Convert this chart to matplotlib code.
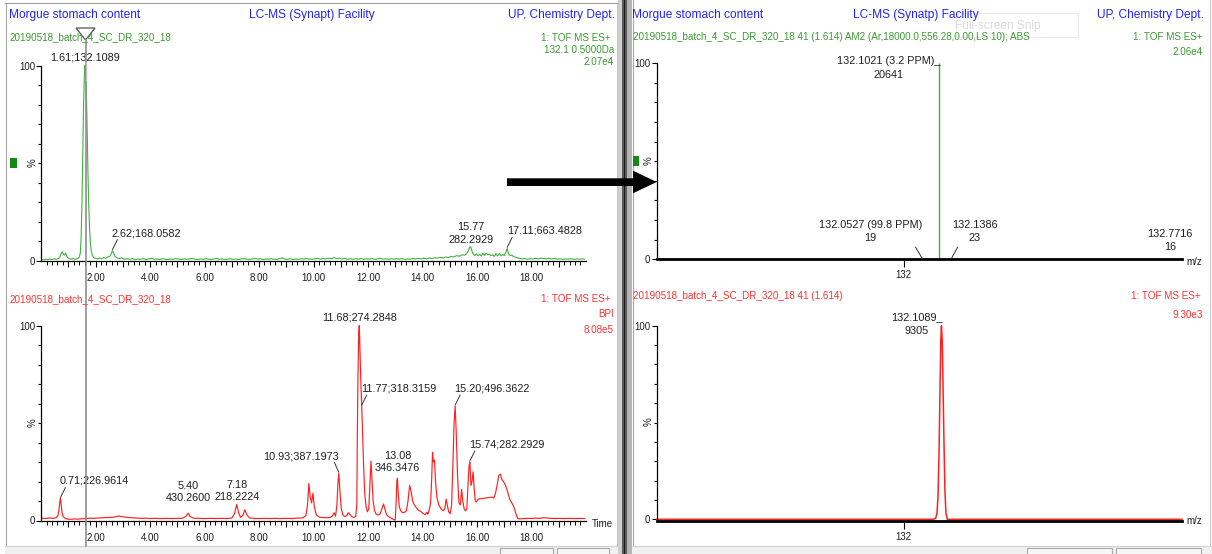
import matplotlib
matplotlib.use("Agg")
import matplotlib.pyplot as plt
from matplotlib import font_manager
from matplotlib.transforms import offset_copy
from matplotlib.ticker import FixedLocator, FuncFormatter
from matplotlib.patches import Rectangle, Polygon

# Prefer the condensed Arial-metric face when it is present
try:
    font_manager.findfont("Liberation Sans Narrow", fallback_to_default=False)
    NARROW = True
except ValueError:
    NARROW = False
plt.rcParams["font.family"] = (["Liberation Sans Narrow"] if NARROW else []) + ["Liberation Sans", "DejaVu Sans"]
SCALE = 1.2 if NARROW else 1.0

# ---------------- data ----------------
# mass chromatogram m/z 132.1 (+/-0.5 Da), % of 2.07e4
tic_time = [0.02, 0.10, 0.18, 0.25, 0.32, 0.40, 0.48, 0.55, 0.62, 0.68, 0.74, 0.78, 0.82, 0.86,
            0.90, 0.94, 0.98, 1.04, 1.10, 1.18, 1.25, 1.32, 1.37, 1.40, 1.44, 1.47, 1.50, 1.53,
            1.56, 1.59, 1.61, 1.63, 1.66, 1.69, 1.72, 1.75, 1.78, 1.81, 1.84, 1.88, 1.93, 2.00,
            2.08, 2.15, 2.22, 2.30, 2.38, 2.45, 2.52, 2.57, 2.62, 2.67, 2.72, 2.80, 2.88, 2.95,
            3.05, 3.15, 3.25, 3.35, 3.45, 3.55, 3.65, 3.75, 3.85, 3.95, 4.05, 4.15, 4.25, 4.35,
            4.45, 4.55, 4.65, 4.75, 4.85, 4.95, 5.05, 5.15, 5.25, 5.35, 5.45, 5.55, 5.65, 5.75,
            5.85, 5.95, 6.05, 6.15, 6.25, 6.35, 6.45, 6.55, 6.65, 6.75, 6.85, 6.95, 7.05, 7.15,
            7.25, 7.35, 7.45, 7.55, 7.65, 7.75, 7.85, 7.95, 8.05, 8.15, 8.25, 8.35, 8.45, 8.55,
            8.65, 8.75, 8.85, 8.95, 9.05, 9.15, 9.25, 9.35, 9.45, 9.55, 9.65, 9.75, 9.85, 9.95,
            10.05, 10.15, 10.25, 10.35, 10.45, 10.55, 10.65, 10.75, 10.85, 10.95, 11.05, 11.15,
            11.25, 11.35, 11.45, 11.55, 11.65, 11.75, 11.85, 11.95, 12.05, 12.15, 12.25, 12.35,
            12.45, 12.55, 12.65, 12.75, 12.85, 12.95, 13.05, 13.15, 13.25, 13.35, 13.45, 13.55,
            13.65, 13.75, 13.85, 13.95, 14.05, 14.15, 14.25, 14.35, 14.45, 14.55, 14.65, 14.75,
            14.85, 14.95, 15.05, 15.15, 15.25, 15.35, 15.45, 15.55, 15.62, 15.68, 15.73, 15.77,
            15.81, 15.86, 15.92, 15.98, 16.04, 16.10, 16.16, 16.22, 16.28, 16.34, 16.40, 16.46,
            16.52, 16.58, 16.64, 16.70, 16.76, 16.82, 16.88, 16.94, 17.00, 17.06, 17.11, 17.16,
            17.22, 17.28, 17.34, 17.40, 17.48, 17.56, 17.65, 17.75, 17.85, 17.95, 18.05, 18.15,
            18.25, 18.35, 18.45, 18.55, 18.65, 18.75, 18.85, 18.95, 19.05, 19.15, 19.25, 19.35,
            19.45, 19.55, 19.65, 19.75, 19.85, 19.95]
tic_pct = [0.6, 0.4, 0.8, 0.5, 0.9, 0.6, 1.0, 0.7, 1.1, 1.4, 3.8, 4.6, 3.2, 2.9,
           3.9, 2.4, 1.5, 1.0, 0.8, 1.1, 0.7, 1.0, 1.3, 1.8, 4.0, 12.0, 30.0, 55.0,
           80.0, 96.0, 100.0, 98.0, 88.0, 68.0, 45.0, 28.0, 16.0, 9.0, 5.0, 2.8, 1.6, 1.2,
           0.9, 1.3, 1.0, 1.6, 1.2, 1.9, 2.2, 3.4, 5.2, 3.6, 2.1, 1.4, 1.1, 1.5,
           0.8, 1.0, 0.7, 1.1, 0.6, 0.9, 0.7, 1.0, 0.6, 0.9, 1.2, 0.7, 0.9, 0.6,
           1.0, 0.8, 0.6, 0.9, 0.7, 1.1, 0.8, 0.6, 1.0, 0.7, 0.9, 1.2, 0.8, 0.6,
           0.9, 0.7, 1.0, 0.8, 0.6, 0.9, 1.1, 0.7, 0.9, 0.6, 0.8, 1.0, 0.7, 0.9,
           0.6, 0.9, 1.1, 0.8, 0.6, 0.9, 1.2, 0.8, 1.0, 0.6, 0.9, 0.7, 1.0, 0.8,
           0.6, 1.1, 1.4, 0.8, 0.7, 1.0, 0.6, 0.9, 0.7, 1.0, 0.8, 1.1, 0.9, 0.7,
           1.0, 1.2, 0.8, 1.1, 0.9, 1.3, 1.0, 1.6, 1.1, 1.3, 0.9, 1.1,
           0.8, 1.0, 0.7, 1.0, 0.8, 1.1, 0.7, 1.0, 0.8, 1.1, 0.7, 0.9,
           1.2, 0.8, 1.0, 0.7, 1.0, 0.8, 1.1, 0.8, 1.0, 0.7, 0.9, 0.8,
           1.1, 0.9, 1.2, 0.9, 1.3, 1.0, 1.4, 1.1, 1.5, 1.3, 1.7, 1.4,
           1.9, 1.6, 2.2, 1.9, 2.6, 2.3, 3.0, 2.8, 3.6, 5.0, 6.8, 7.2,
           5.2, 3.4, 2.6, 3.5, 2.5, 3.3, 2.4, 3.8, 2.7, 3.9, 3.0, 3.4,
           2.5, 3.0, 2.2, 3.6, 2.4, 3.7, 2.5, 3.2, 2.6, 4.2, 6.3, 3.6,
           2.6, 2.9, 2.1, 1.9, 1.5, 1.2, 0.9, 1.1, 0.8, 1.0, 0.9, 1.2,
           1.0, 1.3, 1.1, 1.0, 1.2, 0.9, 1.1, 0.8, 1.0, 0.7, 0.9, 0.8,
           1.0, 0.7, 0.9, 0.8, 0.9, 0.8]

# base peak intensity chromatogram, % of 8.08e5
bpi_time = [0.02, 0.15, 0.30, 0.45, 0.55, 0.62, 0.66, 0.69, 0.71, 0.74, 0.77, 0.81, 0.88, 0.95,
            1.05, 1.20, 1.35, 1.50, 1.65, 1.80, 1.95, 2.10, 2.25, 2.40, 2.55, 2.70, 2.85, 2.95,
            3.10, 3.25, 3.40, 3.55, 3.70, 3.85, 4.00, 4.20, 4.40, 4.60, 4.80, 5.00, 5.20, 5.32,
            5.40, 5.47, 5.60, 5.80, 6.00, 6.20, 6.40, 6.60, 6.80, 7.00, 7.10, 7.18, 7.25, 7.32,
            7.40, 7.48, 7.55, 7.65, 7.80, 8.00, 8.20, 8.40, 8.60, 8.80, 9.00, 9.20, 9.40, 9.60,
            9.72, 9.78, 9.83, 9.88, 9.93, 9.98, 10.03, 10.10, 10.20, 10.35, 10.50, 10.62, 10.70,
            10.76, 10.81, 10.86, 10.90, 10.93, 10.97, 11.02, 11.08, 11.15, 11.22, 11.28, 11.33,
            11.40, 11.48, 11.55, 11.59, 11.61, 11.63, 11.66, 11.68, 11.71, 11.74, 11.77, 11.80,
            11.84, 11.88, 11.93, 11.98, 12.03, 12.07, 12.11, 12.15, 12.19, 12.24, 12.30, 12.38,
            12.45, 12.52, 12.57, 12.62, 12.68, 12.75, 12.85, 12.95, 13.00, 13.03, 13.06, 13.08,
            13.11, 13.15, 13.20, 13.27, 13.34, 13.41, 13.47, 13.53, 13.58, 13.64, 13.70, 13.78,
            13.86, 13.94, 14.02, 14.10, 14.16, 14.20, 14.25, 14.30, 14.34, 14.37, 14.40, 14.44,
            14.48, 14.53, 14.60, 14.68, 14.76, 14.82, 14.87, 14.91, 14.96, 15.02, 15.07, 15.12,
            15.16, 15.20, 15.24, 15.29, 15.34, 15.39, 15.44, 15.48, 15.53, 15.58, 15.63, 15.67,
            15.71, 15.74, 15.78, 15.82, 15.86, 15.90, 15.94, 15.98, 16.05, 16.15, 16.25, 16.35,
            16.45, 16.55, 16.62, 16.68, 16.74, 16.80, 16.86, 16.92, 16.98, 17.05, 17.12, 17.20,
            17.26, 17.32, 17.38, 17.44, 17.50, 17.58, 17.70, 17.85, 18.00, 18.15, 18.30, 18.45,
            18.60, 18.75, 18.90, 19.05, 19.20, 19.40, 19.60, 19.80, 19.95]
bpi_pct = [1.2, 1.0, 1.3, 1.1, 1.4, 2.5, 6.0, 10.0, 11.3, 8.0, 4.0, 2.0, 1.2, 0.8,
           0.6, 0.8, 0.7, 0.9, 1.0, 1.2, 1.1, 1.3, 1.4, 1.5, 1.6, 1.8, 2.3, 2.0,
           1.7, 1.5, 1.3, 1.2, 1.1, 1.2, 1.0, 1.1, 1.0, 1.1, 1.0, 1.1, 1.2, 2.2,
           3.8, 2.0, 1.2, 1.1, 1.0, 1.1, 1.0, 1.1, 1.0, 1.2, 3.5, 8.2, 4.0, 1.6,
           2.5, 5.5, 3.0, 1.3, 1.1, 1.0, 1.1, 1.0, 1.1, 1.0, 1.1, 1.0, 1.2, 1.3,
           2.5, 8.0, 19.0, 12.0, 9.0, 14.0, 7.0, 3.0, 1.8, 1.5, 1.4, 1.6, 2.4,
           4.0, 2.2, 8.0, 20.0, 24.2, 15.0, 6.0, 2.8, 2.0, 2.5, 4.0, 3.2,
           2.0, 1.6, 2.0, 8.0, 45.0, 72.0, 96.0, 100.0, 85.0, 70.0, 58.7, 45.0,
           28.0, 14.0, 7.0, 4.5, 6.0, 18.0, 30.5, 20.0, 10.0, 5.0, 3.2, 2.8,
           3.5, 6.5, 8.5, 6.0, 3.0, 2.0, 1.2, 0.4, 0.3, 8.0, 20.0, 21.6,
           14.0, 7.0, 5.0, 4.0, 4.2, 5.0, 10.0, 18.0, 15.0, 10.0, 8.0, 6.5,
           5.2, 4.6, 3.6, 3.0, 4.2, 3.2, 5.5, 9.0, 22.0, 35.0, 30.0, 31.0,
           20.0, 12.0, 8.0, 6.0, 5.0, 6.0, 11.0, 8.0, 4.5, 3.5, 8.0, 30.0,
           50.0, 58.7, 45.0, 22.0, 9.0, 8.0, 16.0, 10.0, 6.0, 5.0, 6.0, 18.0,
           28.0, 30.0, 18.0, 20.0, 25.0, 16.0, 10.0, 9.5, 11.0, 11.2, 11.4, 11.6,
           11.8, 12.0, 11.5, 14.0, 18.0, 23.0, 23.8, 21.0, 19.8, 18.0, 15.0, 11.0,
           9.5, 8.0, 6.0, 3.0, 1.0, 0.8, 1.0, 1.1, 1.0, 1.2, 1.1, 1.5,
           1.2, 1.1, 1.0, 1.1, 1.0, 1.1, 1.0, 1.1, 1.0]

tic_peak_t = [1.61, 2.62, 15.77, 17.11]
tic_peak_mz = ["132.1089", "168.0582", "282.2929", "663.4828"]
bpi_peak_t = [0.71, 5.40, 7.18, 10.93, 11.68, 11.77, 13.08, 15.20, 15.74]
bpi_peak_mz = ["226.9614", "430.2600", "218.2224", "387.1973", "274.2848",
               "318.3159", "346.3476", "496.3622", "282.2929"]

# centroided spectrum of scan 41 (1.614 min)
stick_mz = [132.0527, 132.1021, 132.1386, 132.7716]
stick_counts = [19, 20641, 23, 16]
stick_ppm = ["99.8", "3.2", None, None]

# continuum spectrum of scan 41, % of 9.30e3
prof_mz = [131.2835, 132.000, 132.085, 132.092, 132.096, 132.099, 132.102, 132.105,
           132.107, 132.1089, 132.111, 132.113, 132.116, 132.119, 132.122, 132.126,
           132.200, 132.806]
prof_pct = [0, 0, 0, 0.5, 3, 12, 35, 70, 92, 100, 93, 75, 42, 15, 3, 0, 0, 0]
prof_label_counts = 9305

sample = "20190518_batch_4_SC_DR_320_18"

# ---------------- styling ----------------
W, H = 1212, 554
BLUE = "#2424f0"
GREEN_T = "#3b9a30"
GREEN_L = "#3cb43c"
RED_T = "#ff3030"
RED_L = "#ff2020"
INK = "#1e1e1e"
FS_HEAD, FS_SUB, FS_ANN, FS_TICK = (s * SCALE for s in (8.6, 7.1, 7.8, 7.0))

fig = plt.figure(figsize=(W / 100, H / 100), dpi=100)
fig.patch.set_facecolor("white")


def px_rect(x0, y_top, x1, y_bot):
    return [x0 / W, 1 - y_bot / H, (x1 - x0) / W, (y_bot - y_top) / H]


def screen_axes(z):
    a = fig.add_axes([0, 0, 1, 1], zorder=z)
    a.set_xlim(0, W)
    a.set_ylim(H, 0)
    a.axis("off")
    a.patch.set_alpha(0)
    return a


bg = screen_axes(0)

# window frames, splitter and status strips
bg.plot([5.5, 5.5], [3, 546], color="#a8a8a8", lw=0.8)
bg.plot([5, 618], [3, 3], color="#a0a0a0", lw=0.8)
bg.plot([617, 617], [3, 546], color="#b8b8b8", lw=0.6)
bg.add_patch(Rectangle((618, 0), 4, H, color="#cfcfcf", lw=0))
bg.add_patch(Rectangle((622, 0), 5, H, color="#5a5a5a", lw=0))
bg.add_patch(Rectangle((624, 0), 1.2, H, color="#1a1a1a", lw=0))
bg.add_patch(Rectangle((627, 0), 4.5, H, color="#b4b4b4", lw=0))
bg.plot([632.5, 632.5], [0, 546], color="#a8a8a8", lw=0.8)
bg.plot([1210, 1210], [0, 546], color="#c0c0c0", lw=0.6)
for x0, x1 in [(5, 618), (632, W)]:
    bg.add_patch(Rectangle((x0, 546), x1 - x0, 8, facecolor="#f0f0f0", edgecolor="none"))
    bg.plot([x0, x1], [546, 546], color="#d0d0d0", lw=0.8)
for x0, x1 in [(500, 553), (557, 609), (1027, 1112), (1116, 1201)]:
    bg.add_patch(Rectangle((x0, 548), x1 - x0, 7, facecolor="#f7f7f7", edgecolor="#a8a8a8", lw=0.8))
bg.add_patch(Rectangle((956, 13), 122, 24, facecolor="none", edgecolor="#ececec", lw=0.8))
bg.text(998, 26, "Full-screen Snip", color="#dadada", fontsize=FS_HEAD, ha="center", va="center")


def style_axes(ax, bottom_lw):
    for s in ("top", "right"):
        ax.spines[s].set_visible(False)
    ax.spines["left"].set_linewidth(0.9)
    ax.spines["bottom"].set_linewidth(bottom_lw)
    ax.set_ylim(0, 100)
    ax.patch.set_alpha(0)
    ax.yaxis.set_major_locator(FixedLocator([0, 100]))
    ax.yaxis.set_minor_locator(FixedLocator(list(range(10, 100, 10))))
    ax.yaxis.set_major_formatter(FuncFormatter(lambda v, p: f"{v:.0f}"))
    ax.tick_params(axis="y", which="major", length=3.6, width=0.8, pad=0.8,
                   labelsize=FS_TICK, labelcolor=INK)
    ax.tick_params(axis="y", which="minor", length=2.2, width=0.8)


def time_axis(ax):
    ax.set_xlim(0, 20)
    ax.xaxis.set_major_locator(FixedLocator(list(range(1, 20))))
    ax.xaxis.set_minor_locator(FixedLocator([i * 0.2 for i in range(1, 100) if i % 5]))
    ax.xaxis.set_major_formatter(FuncFormatter(lambda v, p: f"{v:.2f}" if round(v) % 2 == 0 else ""))
    ax.tick_params(axis="x", which="major", length=4.5, width=0.8, pad=4.5,
                   labelsize=FS_TICK, labelcolor=INK)
    ax.tick_params(axis="x", which="minor", length=3.0, width=0.7)


def mz_axis(ax):
    ax.set_xlim(131.2835, 132.806)
    ax.xaxis.set_major_locator(FixedLocator([132]))
    ax.xaxis.set_major_formatter(FuncFormatter(lambda v, p: f"{v:.0f}"))
    ax.xaxis.set_minor_locator(FixedLocator([]))
    ax.tick_params(axis="x", which="major", length=6, width=0.8, pad=2.0,
                   labelsize=FS_TICK, labelcolor=INK)


def leader(ax, x, y, dx, dy):
    ax.annotate("", xy=(x, y), xycoords=offset_copy(ax.transData, fig=fig, x=0, y=1, units="dots"),
                xytext=(dx, dy), textcoords="offset pixels",
                arrowprops=dict(arrowstyle="-", lw=0.7, color="#333333", shrinkA=0, shrinkB=0))


def label_peak(ax, times, vals, t, mz, kind, dy=0.0):
    h = vals[times.index(t)]
    kw = dict(textcoords="offset pixels", fontsize=FS_ANN, color=INK, annotation_clip=False)
    if kind == "center":
        ax.annotate(f"{t:.2f};{mz}", xy=(t, h), xytext=(0, dy), ha="center", va="center", **kw)
    elif kind == "stack":
        ax.annotate(f"{t:.2f}\n{mz}", xy=(t, h), xytext=(0, dy), ha="center", va="bottom",
                    linespacing=1.3, **kw)
    elif kind == "right":
        ax.annotate(f"{t:.2f};{mz}", xy=(t, h), xytext=(-0.5, 17.5), ha="left", va="center", **kw)
        leader(ax, t, h, 5, 10)
    elif kind == "left":
        ax.annotate(f"{t:.2f};{mz}", xy=(t, h), xytext=(0.5, 16.6), ha="right", va="center", **kw)
        leader(ax, t, h, -4.5, 10)


# ---- upper left: mass chromatogram ----
ax1 = fig.add_axes(px_rect(41.1, 65.5, 585.9, 260.7), zorder=2)
style_axes(ax1, 0.9)
time_axis(ax1)
ax1.plot(tic_time, tic_pct, color=GREEN_L, lw=0.8, clip_on=False)
tic_kinds = [("center", 8.5), ("right", 0), ("stack", 2.0), ("right", 0)]
for t, mz, (kind, dy) in zip(tic_peak_t, tic_peak_mz, tic_kinds):
    label_peak(ax1, tic_time, tic_pct, t, mz, kind, dy)

# ---- lower left: BPI chromatogram ----
ax2 = fig.add_axes(px_rect(41.1, 325.5, 585.9, 520.5), zorder=2)
style_axes(ax2, 0.9)
time_axis(ax2)
ax2.plot(bpi_time, bpi_pct, color=RED_L, lw=0.85, clip_on=False)
bpi_kinds = [("right", 0), ("stack", 10.0), ("stack", 2.5), ("left", 0), ("center", 8.2),
             ("right", 0), ("stack", 5.0), ("right", 0), ("right", 0)]
for t, mz, (kind, dy) in zip(bpi_peak_t, bpi_peak_mz, bpi_kinds):
    label_peak(ax2, bpi_time, bpi_pct, t, mz, kind, dy)

# ---- upper right: centroided spectrum ----
ax3 = fig.add_axes(px_rect(656.6, 63.0, 1182.0, 259.3), zorder=2)
style_axes(ax3, 2.0)
mz_axis(ax3)
base = max(stick_counts)
stick_pct = [c / base * 100 for c in stick_counts]
ax3.vlines(stick_mz, 0, stick_pct, color=GREEN_L, lw=1.0, clip_on=False)
kw = dict(textcoords="offset pixels", fontsize=FS_ANN, color=INK, linespacing=1.4,
          multialignment="center", annotation_clip=False)
for mz, c, p, ppm in zip(stick_mz, stick_counts, stick_pct, stick_ppm):
    if c == base:
        ax3.annotate(f"{mz:.4f} ({ppm} PPM)_\n{c}", xy=(mz, p), xytext=(1.5, -5),
                     ha="right", va="center", **kw)
    elif ppm is not None:
        ax3.annotate(f"{mz:.4f} ({ppm} PPM)\n{c}", xy=(mz, p), xytext=(0, 27.6),
                     ha="right", va="center", **kw)
        leader(ax3, mz, p, -6.5, 11)
    elif mz < 132.5:
        ax3.annotate(f"{mz:.4f}\n{c}", xy=(mz, p), xytext=(0, 27.6),
                     ha="left", va="center", **kw)
        leader(ax3, mz, p, 6, 11)
    else:
        ax3.annotate(f"{mz:.4f}\n{c}", xy=(mz, p), xytext=(0, 18.5),
                     ha="center", va="center", **kw)

# ---- lower right: continuum spectrum ----
ax4 = fig.add_axes(px_rect(656.6, 325.7, 1182.0, 519.3), zorder=2)
style_axes(ax4, 2.0)
ax4.spines["bottom"].set_position(("outward", 1.2))
mz_axis(ax4)
ax4.plot(prof_mz, prof_pct, color=RED_L, lw=1.1, clip_on=False)
top_i = prof_pct.index(max(prof_pct))
ax4.annotate(f"{prof_mz[top_i]:.4f}_\n{prof_label_counts}", xy=(prof_mz[top_i], prof_pct[top_i]),
             xytext=(1.0, 1.5), ha="right", va="center", **kw)

# ---- titles, headers and overlays ----
ov = screen_axes(5)


def put(x, y, s, color, size, ha="left", **extra):
    ov.text(x, y, s, color=color, fontsize=size, ha=ha, va="center", **extra)


for x0, xc, x1, facility in [(9, 312, 615, "LC-MS (Synapt) Facility"),
                             (632, 916, 1204, "LC-MS (Synatp) Facility")]:
    put(x0, 15, "Morgue stomach content", BLUE, FS_HEAD)
    put(xc, 15, facility, BLUE, FS_HEAD, ha="center")
    put(x1, 15, "UP, Chemistry Dept.", BLUE, FS_HEAD, ha="right")

put(10, 37, sample, GREEN_T, FS_SUB)
put(611, 38, "1: TOF MS ES+", GREEN_T, FS_SUB, ha="right")
put(614, 50, "132.1 0.5000Da", GREEN_T, FS_SUB, ha="right")
put(614, 62, "2.07e4", GREEN_T, FS_SUB, ha="right")

put(10, 299, sample, RED_T, FS_SUB)
put(611, 299, "1: TOF MS ES+", RED_T, FS_SUB, ha="right")
put(614, 314, "BPI", RED_T, FS_SUB, ha="right")
put(614, 330, "8.08e5", RED_T, FS_SUB, ha="right")

put(633, 37, sample + " 41 (1.614) AM2 (Ar,18000.0,556.28,0.00,LS 10); ABS", GREEN_T, FS_SUB)
put(1203, 37, "1: TOF MS ES+", GREEN_T, FS_SUB, ha="right")
put(1203, 52, "2.06e4", GREEN_T, FS_SUB, ha="right")

put(633, 296, sample + " 41 (1.614)", RED_T, FS_SUB)
put(1201, 296, "1: TOF MS ES+", RED_T, FS_SUB, ha="right")
put(1203, 315, "9.30e3", RED_T, FS_SUB, ha="right")

# axis captions
for x, y in [(32.7, 163), (32.7, 423), (649, 161), (649, 422)]:
    put(x, y, "%", INK, FS_TICK, ha="center", rotation=90)
put(592, 524, "Time", INK, FS_TICK)
put(1186, 262, "m/z", INK, FS_TICK)
put(1186, 521, "m/z", INK, FS_TICK)

# trace markers
ov.add_patch(Rectangle((10, 158), 7, 10, color="#118c11", lw=0))
ov.add_patch(Rectangle((632.7, 156), 6.6, 10, color="#118c11", lw=0))

# retention-time cursor at the selected scan
ov.plot([85.5, 85.5], [40, 546], color="#8e8e8e", lw=1.2)
ov.plot([85.8, 85.8], [62, 80], color="#e9a6e9", lw=0.8)
ov.add_patch(Polygon([(76, 28), (95, 28), (85.5, 40)], closed=True, fill=False,
                     edgecolor="#555555", lw=0.9))

# arrow from chromatogram to spectrum
ov.add_patch(Polygon([(507, 178.3), (633, 178.3), (633, 170.7), (656.7, 182),
                      (633, 193.3), (633, 186), (507, 186)], closed=True,
                     facecolor="black", edgecolor="none"))

fig.savefig("out.png", dpi=100)
